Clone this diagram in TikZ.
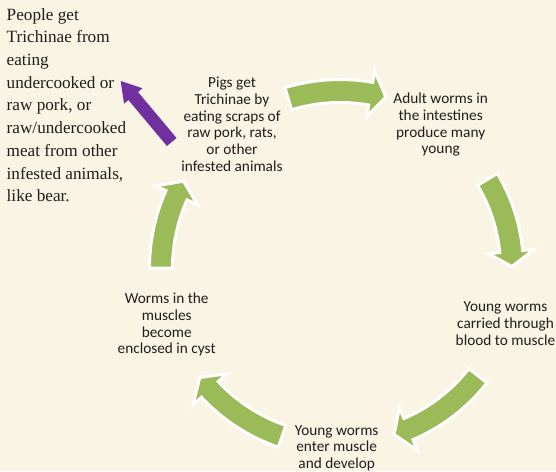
\documentclass[tikz,border=0pt]{standalone}
\usepackage{fontspec}
\setmainfont{Liberation Serif}
\newfontfamily\calibfont{Carlito}
\definecolor{bgtan}{HTML}{F9F4E3}
\definecolor{leafgreen}{HTML}{9BBB59}
\definecolor{purplearrow}{HTML}{7030A0}
\definecolor{inktext}{HTML}{1E1E1E}
\newcommand\greenarc[3]{% #1 tail angle, #2 tip angle, #3 radius
  \pgfmathsetmacro\gaout{#3+11.5}%
  \pgfmathsetmacro\gain{#3-11.5}%
  \pgfmathsetmacro\gahi{#3+23}%
  \pgfmathsetmacro\galo{#3-23}%
  \pgfmathsetmacro\gabase{#2+5}%
  \draw[cyclearrow] (#1:\gaout) arc[start angle=#1, end angle=\gabase, radius=\gaout]
    -- (\gabase:\gahi) -- (#2:#3) -- (\gabase:\galo) -- (\gabase:\gain)
    arc[start angle=\gabase, end angle=#1, radius=\gain] -- cycle;
}
\begin{document}
\begin{tikzpicture}[x=1pt,y=1pt,
  stepnode/.style={font={\calibfont\fontsize{15.3}{16.7}\selectfont}, align=center, anchor=north, inner sep=0pt, text=inktext},
  cyclearrow/.style={fill=leafgreen, draw=white, line width=3pt, line join=miter},
  notetext/.style={font={\fontsize{17.2}{22.7}\selectfont}, align=left, anchor=north west, inner sep=0pt, text=inktext}]
\useasboundingbox (0,0) rectangle (556,-471);
\fill[bgtan] (0,0) rectangle (556,-471);

\begin{scope}[shift={(340,-268)}]
  \greenarc{107}{75}{177}
  \greenarc{31}{0.5}{172}
  \greenarc{-38}{-72}{175}
  \greenarc{-109}{-142}{178}
  \greenarc{180}{151}{179}
\end{scope}

\fill[purplearrow] (176.5,-138) -- (138,-92) -- (142.4,-88.3) -- (120.7,-81)
  -- (124,-103.7) -- (128.4,-100) -- (166.9,-146) -- cycle;

\node[stepnode] (pigs) at (232,-76.9) {Pigs get\\Trichinae by\\eating scraps of\\raw pork, rats,\\or other\\infested animals};
\node[stepnode] (adult) at (440.7,-92.8) {Adult worms in\\the intestines\\produce many\\young};
\node[stepnode] (carried) at (505.5,-301.9) {Young worms\\carried through\\blood to muscle};
\node[stepnode] (enter) at (336.7,-425.2) {Young worms\\enter muscle\\and develop};
\node[stepnode] (cyst) at (166.7,-292.8) {Worms in the\\muscles\\become\\enclosed in cyst};
\node[notetext] (people) at (6.5,-8) {People get\\Trichinae from\\eating\\undercooked or\\raw pork, or\\raw/undercooked\\meat from other\\infested animals,\\like bear.};
\end{tikzpicture}
\end{document}
